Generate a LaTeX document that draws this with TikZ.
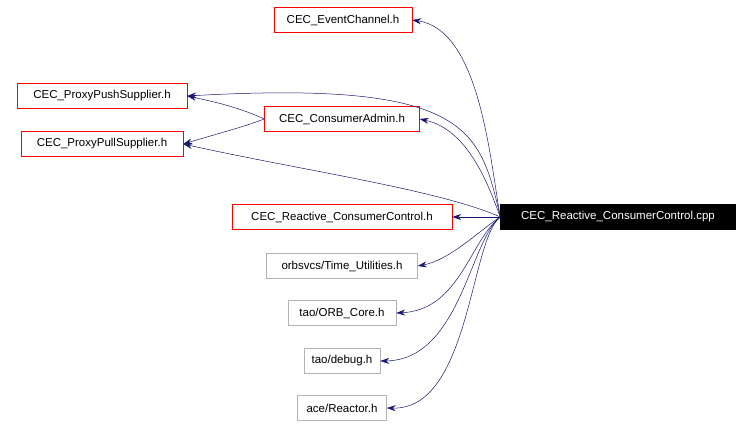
\documentclass[tikz,border=0pt]{standalone}
\usepackage{fontspec}
\setmainfont{Liberation Sans}
\usetikzlibrary{arrows.meta}
\begin{document}
\begin{tikzpicture}[x=1pt,y=-1pt,
  box/.style={draw=#1,fill=white,font=\fontsize{11.5}{13}\selectfont,inner sep=0pt,minimum height=25pt,anchor=center},
  edge/.style={draw=midnightblue,-{Stealth[length=9pt,width=6pt]},line width=0.5pt}]
\definecolor{midnightblue}{RGB}{25,25,112}
\useasboundingbox (0,0) rectangle (752,427);
\node[box=red,minimum width=138pt] (ec) at (343,20) {CEC\_EventChannel.h};
\node[box=red,minimum width=170pt] (push) at (102,96) {CEC\_ProxyPushSupplier.h};
\node[box=red,minimum width=155pt] (ca) at (342,119) {CEC\_ConsumerAdmin.h};
\node[box=red,minimum width=162pt] (pull) at (102,144) {CEC\_ProxyPullSupplier.h};
\node[box=red,minimum width=220pt] (rc) at (342,217) {CEC\_Reactive\_ConsumerControl.h};
\node[box=gray!60,minimum width=151pt] (tu) at (342,266) {orbsvcs/Time\_Utilities.h};
\node[box=gray!60,minimum width=108pt] (orb) at (342,313) {tao/ORB\_Core.h};
\node[box=gray!60,minimum width=76pt] (dbg) at (342,361) {tao/debug.h};
\node[box=gray!60,minimum width=89pt] (rea) at (342,408) {ace/Reactor.h};
\node[box=black,fill=black,text=white,minimum width=235pt] (m) at (618,217) {CEC\_Reactive\_ConsumerControl.cpp};
\path[edge] (m.west) .. controls (490,160) and (480,30) .. (ec.east);
\path[edge] (m.west) .. controls (480,130) and (470,80) .. (push.east);
\path[edge] (m.west) .. controls (490,190) and (470,130) .. (ca.east);
\path[edge] (m.west) .. controls (440,190) and (300,170) .. (pull.east);
\path[edge] (m.west) -- (rc.east);
\path[edge] (m.west) .. controls (480,230) and (450,260) .. (tu.east);
\path[edge] (m.west) .. controls (470,240) and (460,310) .. (orb.east);
\path[edge] (m.west) .. controls (470,240) and (460,360) .. (dbg.east);
\path[edge] (m.west) .. controls (470,240) and (470,410) .. (rea.east);
\path[edge] (ca.west) .. controls (240,108) and (220,103) .. (push.east);
\path[edge] (ca.west) .. controls (240,128) and (220,133) .. (pull.east);
\end{tikzpicture}
\end{document}
